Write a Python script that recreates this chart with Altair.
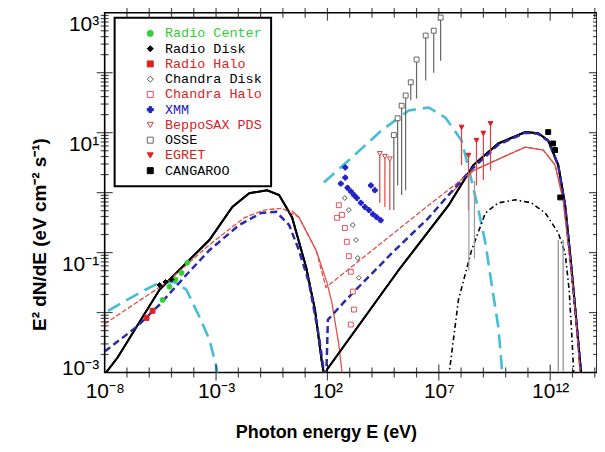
import altair as alt
import pandas as pd

# ---------------- model curves: log10(E / eV) and log10(E^2 dN/dE) ----------------
black_solid_logE = [-8.0, -7.42, -5.54, -3.30, -2.27, -1.51, -0.71, -0.17, 0.41, 1.04, 1.44, 1.75, 1.89, 1.93,
                    1.98, 5.20, 7.44, 8.55, 9.67, 10.88, 11.46, 11.91, 12.36, 12.67, 12.94, 13.21, 13.39, 13.48]
black_solid_logF = [-3.03, -2.75, -1.62, -0.79, -0.24, -0.01, 0.04, -0.04, -0.41, -1.24, -1.95, -2.83, -3.12, -3.3,
                    -2.95, -1.29, -0.21, 0.46, 0.82, 1.01, 0.99, 0.87, 0.46, -0.21, -1.21, -2.29, -3.03, -3.45]

blue_dash_logE = [-8.0, -6.57, -5.54, -4.33, -3.30, -1.96, -0.98, -0.30, 0.28, 0.72, 1.17, 1.62, 1.89, 1.93,
                  2.02, 2.83, 4.89, 6.54, 8.33, 9.67, 10.88, 11.46, 11.91, 12.36, 12.67, 12.94, 13.21, 13.39, 13.48]
blue_dash_logF = [-2.65, -2.24, -1.87, -1.37, -0.96, -0.54, -0.34, -0.32, -0.54, -0.96, -1.50, -2.40, -3.12, -3.3,
                  -2.12, -1.79, -1.01, -0.42, 0.34, 0.80, 1.00, 0.98, 0.86, 0.45, -0.22, -1.22, -2.30, -3.04, -3.45]

red_dash_logE = [-8.0, -5.23, -3.30, -1.74, -0.84, -0.04, 0.72, 1.49, 1.93, 6.54, 8.55, 10.88, 11.69, 12.22,
                 12.58, 12.89, 13.16, 13.34, 13.45]
red_dash_logF = [-2.19, -1.50, -0.87, -0.42, -0.29, -0.26, -0.41, -0.96, -1.58, -0.21, 0.37, 0.76, 0.71, 0.46,
                 -0.12, -1.12, -2.12, -3.0, -3.4]

red_solid_logE = [0.40, 0.72, 1.49, 1.98, 2.20, 2.51, 2.69, 2.75]
red_solid_logF = [-0.30, -0.41, -0.96, -1.50, -1.84, -2.53, -3.12, -3.4]
red_solid2_logE = [7.44, 8.55, 10.88, 11.69, 12.22, 12.58, 12.89, 13.16, 13.34, 13.45]
red_solid2_logF = [-0.05, 0.37, 0.76, 0.71, 0.46, -0.12, -1.12, -2.12, -3.0, -3.4]

cyan_left_logE = [-7.85, -6.43, -5.54, -4.87, -4.33, -3.75, -3.30, -2.99, -2.90]
cyan_left_logF = [-1.97, -1.67, -1.50, -1.49, -1.62, -2.07, -2.45, -2.90, -3.12]
cyan_right_logE = [1.84, 2.96, 4.44, 5.65, 6.54, 7.30, 8.02, 8.33, 8.78, 9.09, 9.36, 9.67, 9.81, 9.85]
cyan_right_logF = [0.17, 0.54, 1.04, 1.37, 1.42, 1.25, 0.87, 0.42, -0.29, -0.84, -1.50, -2.24, -2.83, -3.12]

dashdot_logE = [7.44, 7.88, 8.47, 9.09, 9.67, 10.43, 11.15, 11.78, 12.36, 12.67, 12.85, 12.98, 13.07]
dashdot_logF = [-3.08, -1.79, -0.96, -0.34, -0.17, -0.12, -0.17, -0.34, -0.67, -1.01, -1.62, -2.45, -3.12]

# ---------------- observations ----------------
labels = ["Radio Center", "Radio Disk", "Radio Halo", "Chandra Disk", "Chandra Halo",
          "XMM", "BeppoSAX PDS", "OSSE", "EGRET", "CANGAROO"]
shapes = ["circle", "diamond", "square", "diamond", "square", "cross",
          "triangle-down", "square", "triangle-down", "square"]
strokes = ["#2fd02f", "#000000", "#e02020", "#555555", "#e05060", "#2020c8",
           "#e04040", "#666666", "#e02020", "#000000"]
fills = ["#2fd02f", "#000000", "#e02020", "#ffffff", "#ffffff", "#2020c8",
         "#ffffff", "#ffffff", "#e02020", "#000000"]
text_colors = ["#2fd02f", "#000000", "#e02020", "#000000", "#e02020", "#2020c8",
               "#e02020", "#000000", "#e02020", "#000000"]

radio_center_logE = [-5.40, -5.09, -4.82, -4.55, -4.29]
radio_center_logF = [-1.79, -1.57, -1.45, -1.34, -1.17]
radio_disk_logE = [-5.54, -5.27, -5.00]
radio_disk_logF = [-1.54, -1.49, -1.45]
radio_halo_logE = [-6.12, -5.85]
radio_halo_logF = [-2.09, -1.97]
chandra_disk_logE = [2.78, 2.96, 3.14, 3.28, 3.36, 3.41]
chandra_disk_logF = [-0.09, -0.29, -0.54, -0.79, -1.09, -1.42]
chandra_halo_logE = [2.43, 2.51, 2.65, 2.78, 2.87, 2.96, 3.05, 3.14, 3.19, 3.05]
chandra_halo_logF = [-0.42, -0.21, -0.37, -0.59, -0.82, -1.06, -1.32, -1.65, -1.95, -2.20]
xmm_logE = [2.60, 2.80, 2.90, 3.05, 3.19, 3.32, 3.50, 3.68, 3.86, 4.04, 4.21, 4.39, 3.95, 4.13, 2.80]
xmm_logF = [0.15, 0.25, 0.08, 0.02, -0.04, -0.09, -0.17, -0.24, -0.29, -0.36, -0.41, -0.46, 0.12, 0.04, 0.42]
sax_logE = [4.35, 4.58, 4.80]
sax_hi = [0.65, 0.60, 0.56]
sax_lo = [-0.17, -0.24, -0.29]
osse_logE = [4.98, 5.15, 5.33, 5.51, 5.74, 6.00, 6.41, 6.77, 7.08]
osse_hi = [0.96, 1.24, 1.45, 1.62, 1.84, 2.22, 2.62, 2.70, 2.92]
osse_lo = [-0.29, 0.12, -0.04, 0.04, 1.54, 1.57, 1.87, 2.00, 2.20]
egret_logE = [8.02, 8.33, 8.69, 9.00, 9.32]
egret_hi = [1.09, 0.62, 0.87, 0.99, 1.15]
egret_lo = [0.46, -0.29, 0.12, 0.21, 0.37]
egret_ext_logE = [8.35, 8.60]
egret_ext_hi = [0.30, 0.20]
egret_ext_lo = [-1.30, -1.10]
cang_logE = [11.91, 12.13, 12.22, 12.45]
cang_logF = [1.01, 0.82, 0.71, -0.08]
cang_err_logE = [12.36, 12.58]
cang_err_hi = [-0.79, -0.79]
cang_err_lo = [-2.98, -2.98]

x_ticks = [-8, -3, 2, 7, 12]
y_ticks = [-3, -1, 1, 3]
x_tick_decades = list(range(-7, 15))
y_tick_decades = [-3, -2, -1, 0, 1, 2]
y_minor_mult = [2, 3, 4, 5, 6, 7, 8, 9]

X_MIN, X_MAX = -8.0, 14.1
Y_MIN, Y_MAX = -3.0, 3.0
W, H = 494, 361


def curve(le, lf):
    return pd.DataFrame({"E": [10 ** v for v in le], "F": [10 ** v for v in lf], "i": list(range(len(le)))})


pts = []
for name, le, lf in [("Radio Center", radio_center_logE, radio_center_logF),
                     ("Radio Disk", radio_disk_logE, radio_disk_logF),
                     ("Radio Halo", radio_halo_logE, radio_halo_logF),
                     ("Chandra Disk", chandra_disk_logE, chandra_disk_logF),
                     ("Chandra Halo", chandra_halo_logE, chandra_halo_logF),
                     ("XMM", xmm_logE, xmm_logF),
                     ("BeppoSAX PDS", sax_logE, sax_hi),
                     ("OSSE", osse_logE, osse_hi),
                     ("EGRET", egret_logE, egret_hi),
                     ("CANGAROO", cang_logE, cang_logF)]:
    for a, b in zip(le, lf):
        pts.append({"inst": name, "E": 10 ** a, "F": 10 ** b})
pts = pd.DataFrame(pts)


def errs(le, lo, hi):
    return pd.DataFrame({"E": [10 ** v for v in le], "lo": [10 ** v for v in lo], "hi": [10 ** v for v in hi]})


sup = str.maketrans("-0123456789", "⁻⁰¹²³⁴⁵⁶⁷⁸⁹")


def label_expr(exps):
    s = "''"
    for e in reversed(exps):
        s = f"abs(log(datum.value)/LN10 - ({e})) < 0.01 ? '10{str(e).translate(sup)}' : " + s
    return s


xscale = alt.Scale(type="log", domain=[10 ** X_MIN, 10 ** X_MAX], nice=False)
yscale = alt.Scale(type="log", domain=[10 ** Y_MIN, 10 ** Y_MAX], nice=False)

xaxis = alt.Axis(values=[10 ** e for e in x_ticks], labelExpr=label_expr(x_ticks), ticks=False, domain=False,
                 grid=False, labelFlush=False, labelOverlap=False, labelFontSize=21, labelPadding=8,
                 labelFont="Liberation Sans", labelColor="black",
                 title="Photon energy E (eV)", titleFontSize=18, titleFontWeight="bold",
                 titleFont="Liberation Sans", titleX=222, titleY=60, titleBaseline="middle", titleAlign="center")
yaxis = alt.Axis(values=[10 ** e for e in y_ticks], labelExpr=label_expr(y_ticks), ticks=False, domain=False,
                 grid=False, labelFlush=False, labelOverlap=False, labelFontSize=21, labelPadding=6,
                 labelFont="Liberation Sans", labelColor="black", labelBaseline="middle",
                 labelOffset={"condition": {"test": "datum.value < 0.01", "value": -4}, "value": 12},
                 title="E² dN/dE (eV cm⁻² s⁻¹)", titleFontSize=19, titleFontWeight="bold",
                 titleFont="Liberation Sans", titleAngle=270, titleX=-65, titleY=222,
                 titleBaseline="middle", titleAlign="center")

X = alt.X("E:Q", scale=xscale, axis=xaxis)
Y = alt.Y("F:Q", scale=yscale, axis=yaxis)
Xn = alt.X("E:Q", scale=xscale)
Yn = alt.Y("F:Q", scale=yscale)


def line(df, color, width, dash=None):
    kw = dict(color=color, strokeWidth=width, clip=True)
    if dash:
        kw["strokeDash"] = dash
    return alt.Chart(df).mark_line(**kw).encode(x=Xn, y=Yn, order="i:Q")


base = alt.Chart(curve(black_solid_logE, black_solid_logF)).mark_line(
    color="black", strokeWidth=2, clip=True).encode(x=X, y=Y, order="i:Q")

layers = [
    base,
    line(curve(cyan_left_logE, cyan_left_logF), "#45bdd6", 2.6, [14, 7]),
    line(curve(cyan_right_logE, cyan_right_logF), "#45bdd6", 2.6, [14, 7]),
    line(curve(dashdot_logE, dashdot_logF), "black", 1.6, [5, 3, 1.5, 3]),
    line(curve(red_solid_logE, red_solid_logF), "#e0504a", 1.3),
    line(curve(red_solid2_logE, red_solid2_logF), "#e0504a", 1.3),
    line(curve(black_solid_logE, black_solid_logF), "black", 2),
    line(curve(blue_dash_logE, blue_dash_logF), "#2b2ba8", 2.5, [7, 4]),
    line(curve(red_dash_logE, red_dash_logF), "#e0504a", 1.3, [5, 2]),
]

for df, col in [(errs(sax_logE, sax_lo, sax_hi), "#e04040"),
                (errs(osse_logE, osse_lo, osse_hi), "#666666"),
                (errs(egret_logE, egret_lo, egret_hi), "#e04040"),
                (errs(egret_ext_logE, egret_ext_lo, egret_ext_hi), "#9a9a9a"),
                (errs(cang_err_logE, cang_err_lo, cang_err_hi), "#888888")]:
    layers.append(alt.Chart(df).mark_rule(color=col, strokeWidth=1.2, clip=True).encode(
        x=Xn, y=alt.Y("lo:Q", scale=yscale), y2="hi:Q"))

# inward frame ticks: tick values through the scales, drawn hugging the frame edges
xt_major = pd.DataFrame({"E": [10.0 ** k for k in x_tick_decades if k in x_ticks]})
xt_minor = pd.DataFrame({"E": [10.0 ** k for k in x_tick_decades if k not in x_ticks]})
yt_major = pd.DataFrame({"F": [10.0 ** k for k in y_tick_decades if k > -3]})
yt_minor = pd.DataFrame({"F": [float(m) * 10.0 ** k for k in y_tick_decades for m in y_minor_mult]})
for df, size in [(xt_major, 16), (xt_minor, 10)]:
    for ypos in [H, 0]:
        layers.append(alt.Chart(df).mark_tick(color="black", thickness=1.2, size=size, orient="vertical").encode(
            x=Xn, y=alt.value(ypos)))
for df, size in [(yt_major, 16), (yt_minor, 8)]:
    for xpos in [0, W]:
        layers.append(alt.Chart(df).mark_tick(color="black", thickness=1.2, size=size, orient="horizontal").encode(
            y=Yn, x=alt.value(xpos)))

color_expr = " : ".join(f"datum.label == '{l}' ? '{c}'" for l, c in zip(labels, text_colors)) + " : 'black'"
leg = alt.Legend(title=None, orient="none", legendX=10, legendY=5, strokeColor="black", fillColor="white",
                 padding=9, symbolOffset=20, labelFont="Liberation Mono", labelFontSize=13.5,
                 labelColor=alt.ExprRef(expr=color_expr), rowPadding=0.3, labelOffset=8, symbolSize=36,
                 symbolStrokeWidth=1)

points = alt.Chart(pts).mark_point(size=24, strokeWidth=1, opacity=1, clip=True).encode(
    x=Xn, y=Yn,
    shape=alt.Shape("inst:N", scale=alt.Scale(domain=labels, range=shapes), legend=leg),
    stroke=alt.Stroke("inst:N", scale=alt.Scale(domain=labels, range=strokes), legend=leg),
    fill=alt.Fill("inst:N", scale=alt.Scale(domain=labels, range=fills), legend=leg),
)
layers.append(points)

chart = alt.layer(*layers).properties(
    width=W, height=H,
    autosize=alt.AutoSizeParams(type="none"),
    padding={"left": 97, "top": 4, "right": 0, "bottom": 80},
    background="white",
).configure_view(stroke="black", strokeWidth=1.6).configure_legend(strokeWidth=2)

chart.save("out.html", embed_options={"renderer": "svg", "actions": False})
